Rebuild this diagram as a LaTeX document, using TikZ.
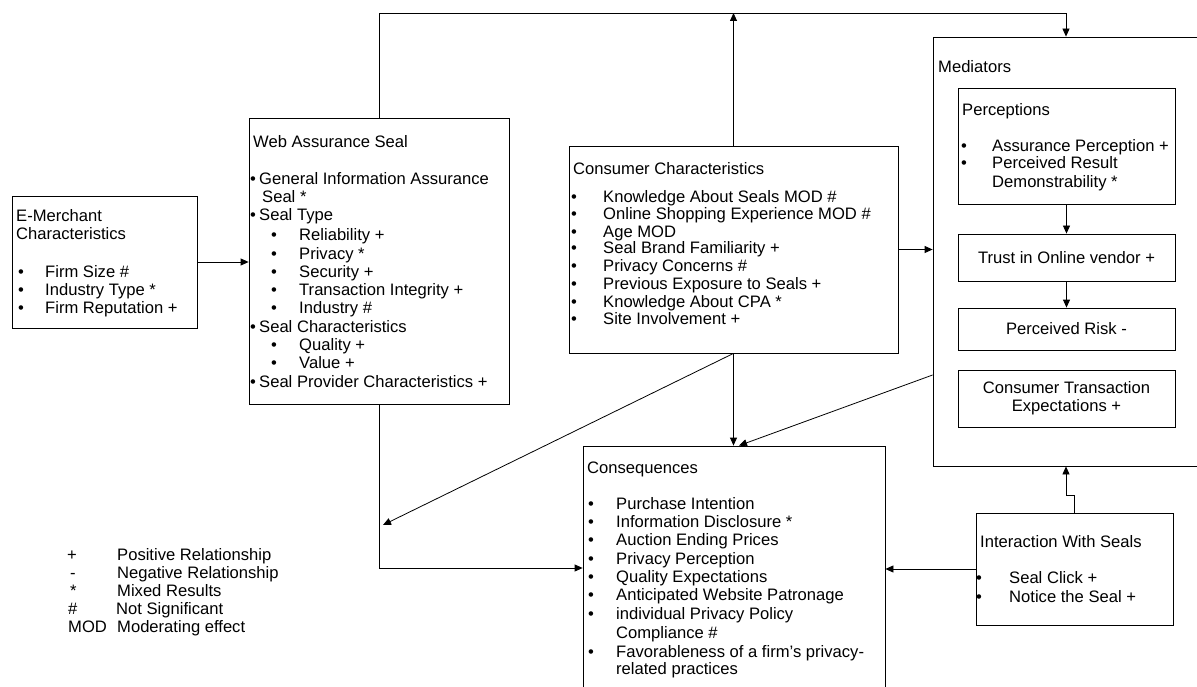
\documentclass[tikz,border=0pt]{standalone}
\usepackage{fontspec}
\setmainfont{Liberation Sans}
\usetikzlibrary{arrows.meta,calc}
\newcommand\txtline[4]{\node[txt] (#1) at (#2,#3+6) {#4};}
\newcommand\bitem[5]{\node[txt] (#1b) at (#2,#4+6) {\textbullet};\node[txt] (#1) at (#3,#4+6) {#5};}
\begin{document}
\begin{tikzpicture}[x=1pt,y=-1pt,
  box/.style={draw=black,line width=0.8pt,inner sep=0pt,rectangle},
  txt/.style={anchor=base west,inner sep=0pt,font=\fontsize{16.6}{18}\selectfont},
  ctxt/.style={font=\fontsize{16.6}{18}\selectfont,align=center},
  arr/.style={draw=black,line width=0.8pt,-{Triangle[length=8pt,width=7pt]}},
  ln/.style={draw=black,line width=0.8pt}]
\clip (0,0) rectangle (1197,687);
\fill[white] (0,0) rectangle (1197,687);

% ---------- boxes ----------
\node[box,minimum width=185pt,minimum height=132pt] (em) at (104.5,262) {};
\node[box,minimum width=260pt,minimum height=286pt] (web) at (379,261) {};
\node[box,minimum width=329pt,minimum height=207pt] (cons) at (733.5,249.5) {};
\node[box,minimum width=266pt,minimum height=429pt] (med) at (1066,251.5) {};
\node[box,minimum width=217pt,minimum height=116pt] (per) at (1066.5,146) {};
\node[box,ctxt,minimum width=217pt,minimum height=47pt] (trust) at (1066.5,257.5) {Trust in Online vendor +};
\node[box,ctxt,minimum width=217pt,minimum height=42pt] (risk) at (1066.5,329) {Perceived Risk -};
\node[box,ctxt,minimum width=217pt,minimum height=57pt] (cte) at (1066.5,398.5) {Consumer Transaction\\Expectations +};
\node[box,minimum width=197pt,minimum height=112pt] (inter) at (1074.5,569) {};
\node[box,minimum width=302pt,minimum height=254pt] (conseq) at (734,573) {};

% ---------- E-Merchant ----------
\txtline{emt1}{16}{216}{E-Merchant}
\txtline{emt2}{16}{234}{Characteristics}
\bitem{em1}{18}{45}{271}{Firm Size \#}
\bitem{em2}{18}{45}{289}{Industry Type *}
\bitem{em3}{18}{45}{307}{Firm Reputation +}

% ---------- Web Assurance Seal ----------
\txtline{wt}{253}{142}{Web Assurance Seal}
\bitem{w1}{250}{259}{179}{General Information Assurance}
\txtline{w1b2}{262}{197}{Seal *}
\bitem{w2}{250}{259}{215}{Seal Type}
\bitem{w3}{271}{299}{235}{Reliability +}
\bitem{w4}{271}{299}{253}{Privacy *}
\bitem{w5}{271}{299}{271}{Security +}
\bitem{w6}{271}{299}{289}{Transaction Integrity +}
\bitem{w7}{271}{299}{307}{Industry \#}
\bitem{w8}{250}{259}{326}{Seal Characteristics}
\bitem{w9}{271}{299}{344}{Quality +}
\bitem{w10}{271}{299}{362}{Value +}
\bitem{w11}{250}{259}{381}{Seal Provider Characteristics +}

% ---------- Consumer ----------
\txtline{ct}{573}{169}{Consumer Characteristics}
\bitem{c1}{571}{603}{197}{Knowledge About Seals MOD \#}
\bitem{c2}{571}{603}{214}{Online Shopping Experience MOD \#}
\bitem{c3}{571}{603}{231}{Age MOD}
\bitem{c4}{571}{603}{248}{Seal Brand Familiarity +}
\bitem{c5}{571}{603}{266}{Privacy Concerns \#}
\bitem{c6}{571}{603}{283}{Previous Exposure to Seals +}
\bitem{c7}{571}{603}{301}{Knowledge About CPA *}
\bitem{c8}{571}{603}{318}{Site Involvement +}

% ---------- Mediators ----------
\txtline{mt}{938}{67}{Mediators}
\txtline{pt}{962}{110}{Perceptions}
\bitem{p1}{961}{992}{146}{Assurance Perception +}
\bitem{p2}{961}{992}{163}{Perceived Result}
\txtline{p3}{992}{182}{Demonstrability *}

% ---------- Interaction ----------
\txtline{it}{980}{541}{Interaction With Seals}
\bitem{i1}{976}{1009}{577}{Seal Click +}
\bitem{i2}{976}{1009}{596}{Notice the Seal +}

% ---------- Consequences ----------
\txtline{qt}{587}{467}{Consequences}
\bitem{q1}{588}{616}{503}{Purchase Intention}
\bitem{q2}{588}{616}{521}{Information Disclosure *}
\bitem{q3}{588}{616}{539}{Auction Ending Prices}
\bitem{q4}{588}{616}{558}{Privacy Perception}
\bitem{q5}{588}{616}{576}{Quality Expectations}
\bitem{q6}{588}{616}{594}{Anticipated Website Patronage}
\bitem{q7}{588}{616}{613}{individual Privacy Policy}
\txtline{q7b2}{616}{632}{Compliance \#}
\bitem{q8}{588}{616}{651}{Favorableness of a firm’s privacy-}
\txtline{q8b2}{616}{668}{related practices}

% ---------- Legend ----------
\txtline{l1s}{67}{554}{+}
\txtline{l1}{117}{554}{Positive Relationship}
\txtline{l2s}{70}{572}{-}
\txtline{l2}{117}{572}{Negative Relationship}
\txtline{l3s}{70}{590}{*}
\txtline{l3}{117}{590}{Mixed Results}
\txtline{l4s}{68}{608}{\#}
\txtline{l4}{116}{608}{Not Significant}
\txtline{l5s}{68}{626}{MOD}
\txtline{l5}{117}{626}{Moderating effect}

% ---------- connectors ----------
\coordinate (topy) at (0,13);
\coordinate (wa) at (383,525);
\draw[arr] (em.east) -- (em.east -| web.west);
\draw[arr] (web.north) |- (topy -| med.north) -- (med.north);
\draw[arr] (cons.north) -- (cons.north |- topy);
\draw[arr] (cons.east) -- (cons.east -| med.west);
\draw[arr] (per.south) -- (trust.north);
\draw[arr] (trust.south) -- (risk.north);
\draw[arr] (cons.south) -- (cons.south |- conseq.north);
\draw[arr] (cons.south) -- (wa);
\draw[arr] ([yshift=-123.5pt]med.west) -- ([xshift=5pt]conseq.north);
\draw[arr] (web.south) |- ([yshift=5pt]conseq.west);
\draw[arr] (inter.west) -- (inter.west -| conseq.east);
\draw[arr] (inter.north) -- ++(0,-17) -| (med.south);
\end{tikzpicture}
\end{document}
